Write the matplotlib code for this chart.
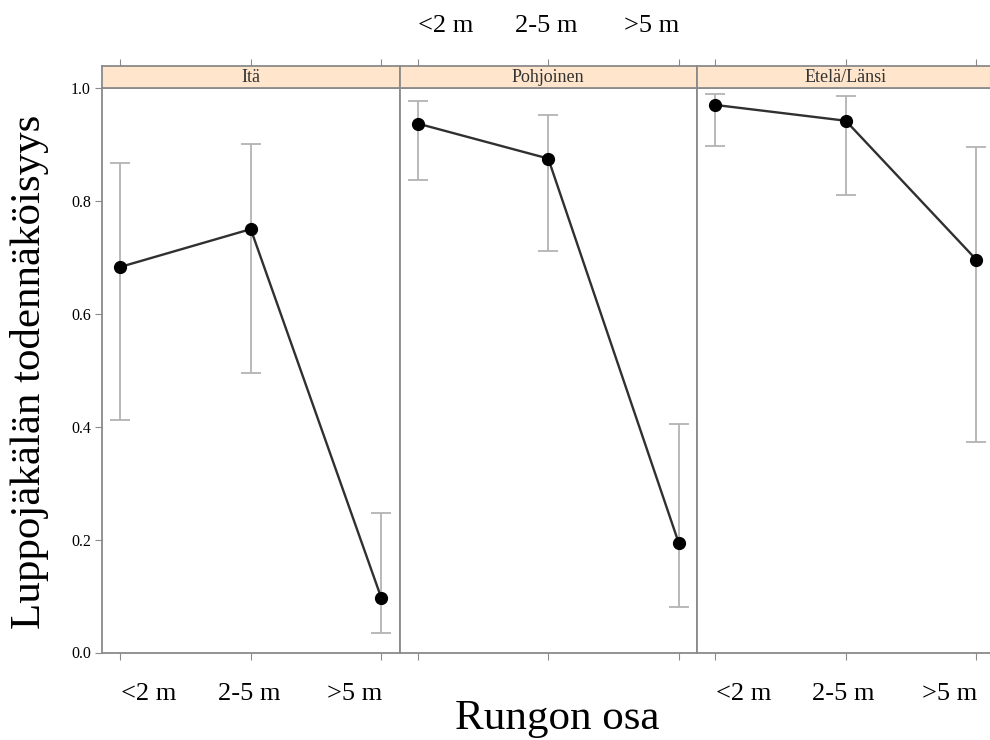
import matplotlib.pyplot as plt
from matplotlib.transforms import ScaledTranslation

plt.rcParams['font.family'] = ['Liberation Serif', 'DejaVu Serif']

categories = ['<2 m', '2-5 m', '>5 m']
panel_names = ['Itä', 'Pohjoinen', 'Etelä/Länsi']

# estimates and 95% limits
ita_est = [0.683, 0.750, 0.097]
ita_low = [0.412, 0.496, 0.035]
ita_high = [0.868, 0.901, 0.248]

pohjoinen_est = [0.937, 0.875, 0.194]
pohjoinen_low = [0.837, 0.711, 0.080]
pohjoinen_high = [0.977, 0.953, 0.404]

etela_est = [0.970, 0.942, 0.696]
etela_low = [0.897, 0.811, 0.373]
etela_high = [0.989, 0.985, 0.896]

y_ticks = [0.0, 0.2, 0.4, 0.6, 0.8, 1.0]

panels = [
    (ita_est, ita_low, ita_high),
    (pohjoinen_est, pohjoinen_low, pohjoinen_high),
    (etela_est, etela_low, etela_high),
]

W, H = 990, 740
fig = plt.figure(figsize=(W / 100, H / 100), dpi=100)

frame_col = '#8a8a8a'
x = [1, 2, 3]
left0 = 102
pw = 297.5
top_px, bot_px = 88, 652.5
strip_top = 66
# the hand-set category labels sit a bit inside the outer ticks (pixels)
label_shift = [28, -2, -27]


def shift_labels(labels):
    for lab, dx in zip(labels, label_shift):
        lab.set_transform(lab.get_transform() +
                          ScaledTranslation(dx / 100, 0, fig.dpi_scale_trans))


for i, (est, low, high) in enumerate(panels):
    l = (left0 + i * pw) / W
    ax = fig.add_axes([l, (H - bot_px) / H, pw / W, (bot_px - top_px) / H])
    yerr = [[e - lo for e, lo in zip(est, low)], [hi - e for e, hi in zip(est, high)]]
    ax.errorbar(x, est, yerr=yerr, fmt='none', ecolor='#b3b3b3',
                elinewidth=1.3, capsize=7.5, capthick=1.3, zorder=2)
    ax.plot(x, est, '-', color='#303030', lw=1.7, zorder=3)
    ax.plot(x, est, 'o', color='black', ms=8.5, zorder=4)
    ax.set_xlim(0.86, 3.14)
    ax.set_ylim(0, 1.0)
    for s in ax.spines.values():
        s.set_color(frame_col)
        s.set_linewidth(1.3)
    ax.set_xticks(x)
    ax.tick_params(axis='x', direction='out', length=5, color=frame_col,
                   labelsize=19, pad=17)
    if i == 1:
        ax.set_xticklabels([])
    else:
        ax.set_xticklabels(categories)
        shift_labels(ax.get_xticklabels())
    ax.set_yticks(y_ticks)
    if i == 0:
        ax.set_yticklabels([f'{v:.1f}' for v in y_ticks])
        ax.tick_params(axis='y', direction='out', length=5, color=frame_col,
                       labelsize=11.5, pad=3)
    else:
        ax.tick_params(axis='y', left=False, labelleft=False)
    if i == 2:
        ax.tick_params(axis='y', right=True, direction='out', length=5, color=frame_col)

    # strip
    sax = fig.add_axes([l, (H - top_px) / H, pw / W, (top_px - strip_top) / H])
    sax.set_facecolor('#ffe5cc')
    sax.set_xlim(0.86, 3.14)
    sax.set_ylim(0, 1)
    sax.set_yticks([])
    sax.set_xticks(x)
    sax.tick_params(axis='x', bottom=False, labelbottom=False, top=True,
                    direction='out', length=5, color=frame_col,
                    labeltop=(i == 1), labelsize=19, pad=16)
    if i == 1:
        sax.set_xticklabels(categories)
        shift_labels(sax.get_xticklabels())
    for s in sax.spines.values():
        s.set_color(frame_col)
        s.set_linewidth(1.3)
    sax.text(0.5, 0.5, panel_names[i], transform=sax.transAxes, ha='center',
             va='center', fontsize=13, color='#333333')

fig.text(30 / W, 0.497, 'Luppojäkälän todennäköisyys', rotation=90,
         ha='center', va='center', fontsize=31)
fig.text(557 / W, 11 / H, 'Rungon osa', ha='center', va='baseline', fontsize=31)

fig.savefig('out.png', dpi=100)
